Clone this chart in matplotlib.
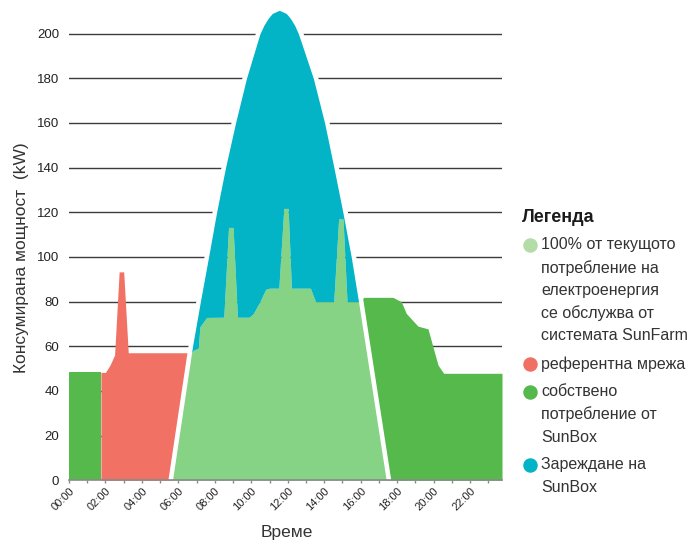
import numpy as np
import matplotlib
matplotlib.use("Agg")
import matplotlib.pyplot as plt
from matplotlib import font_manager as fm
from matplotlib.lines import Line2D

# ---------------- data ----------------
# demand curve (kW), time in hours
t_demand = [0.0, 1.75, 2.0, 2.25, 2.5, 2.75, 3.0, 3.25, 6.7, 6.85, 7.09, 7.18, 7.55,
            8.49, 8.75, 9.0, 9.24, 9.88, 10.1, 10.47, 10.79, 11.0, 11.51, 11.78, 12.02,
            12.2, 13.24, 13.52, 14.52, 14.79, 15.03, 15.25, 16.0, 16.16, 17.77, 18.23,
            18.5, 19.14, 19.69, 20.24, 20.55, 23.75]
v_demand = [48.3, 48.3, 48.3, 51.6, 56.1, 93.3, 93.3, 57.1, 57.1, 58.3, 59.1, 68.7, 72.9,
            73.0, 113.2, 113.2, 73.0, 73.0, 74.5, 80.0, 85.5, 86.0, 86.0, 121.7, 121.7,
            86.0, 86.0, 80.0, 80.0, 117.0, 117.0, 80.0, 80.0, 81.9, 81.9, 79.9,
            74.7, 69.0, 67.8, 51.6, 47.9, 47.9]

# SunFarm production curve (kW)
t_prod = [0.0, 5.58, 6.68, 7.11, 7.56, 8.0, 8.49, 9.04, 9.64, 10.38, 10.61, 10.86, 11.1,
          11.56, 12.02, 12.26, 12.51, 12.73, 13.55, 14.17, 14.68, 15.17, 15.63, 16.03,
          17.55, 23.75]
v_prod = [0, 0, 60, 80, 100, 120, 140, 160, 180, 200, 204, 207.3, 209.6,
          211.3, 209.6, 207.3, 204, 200, 180, 160, 140, 120, 100, 80,
          0, 0]

grid_switch = 1.75          # own consumption -> reference grid
tick_hours = list(range(24))
tick_labels = [f"{h:02d}:00" if h % 2 == 0 else "" for h in tick_hours]
y_ticks = list(range(0, 201, 20))

legend_items = [
    ("100% от текущото\nпотребление на\nелектроенергия\nсе обслужва от\nсистемата SunFarm", "#b3dca6"),
    ("референтна мрежа", "#f07064"),
    ("собствено\nпотребление от\nSunBox", "#55b84c"),
    ("Зареждане на\nSunBox", "#02b4c6"),
]

C_LIGHT = "#86d386"
C_RED = "#f17165"
C_DARK = "#55b94c"
C_BLUE = "#02b4c6"

names = {f.name for f in fm.fontManager.ttflist}
FONT = "Liberation Sans" if "Liberation Sans" in names else "DejaVu Sans"
plt.rcParams["font.family"] = [FONT, "DejaVu Sans"]

# ---------------- figure ----------------
W, H = 692, 545
fig = plt.figure(figsize=(W / 100, H / 100), dpi=100)
ax = fig.add_axes([69 / W, 64.7 / H, (502 - 69) / W, 480.3 / H])

tt = np.union1d(np.linspace(0, 23.75, 6000), np.union1d(t_demand, t_prod))
D = np.interp(tt, t_demand, v_demand)
P = np.interp(tt, t_prod, v_prod)

ax.fill_between(tt, 0, D, where=tt <= grid_switch, color=C_DARK, lw=0, zorder=1)
ax.fill_between(tt, P, D, where=(D > P) & (tt >= grid_switch) & (tt < 12), color=C_RED, lw=0, zorder=1)
ax.fill_between(tt, P, D, where=(D > P) & (tt > 12), color=C_DARK, lw=0, zorder=1)
ax.fill_between(tt, 0, np.minimum(D, P), where=P > 0, color=C_LIGHT, lw=0, zorder=1)
ax.fill_between(tt, D, P, where=P > D, color=C_BLUE, lw=0, zorder=1)
ax.plot(t_prod[1:-1], v_prod[1:-1], color="white", lw=3.3, zorder=2, solid_capstyle="butt")

ax.set_xlim(0, 23.75)
ax.set_ylim(0, 215)
ax.set_yticks(y_ticks)
ax.set_xticks(tick_hours)
ax.set_xticklabels(tick_labels)
ax.set_axisbelow(True)
ax.yaxis.grid(True, color="#3c3c3c", lw=1.0)
for s in ["top", "right", "left"]:
    ax.spines[s].set_visible(False)
ax.spines["bottom"].set_color("#8a8a8a")
ax.spines["bottom"].set_linewidth(1.2)
ax.tick_params(axis="y", length=0, pad=7, labelsize=9.5, labelcolor="#222222")
ax.tick_params(axis="x", length=2.5, width=1, color="#8a8a8a", pad=1.5, labelsize=8,
               labelcolor="#222222")
for lab in ax.get_xticklabels():
    lab.set_rotation(45)
    lab.set_ha("right")
    lab.set_va("top")
    lab.set_rotation_mode("anchor")

fig.text(22 / W, 1 - 258 / H, "Консумирана мощност  (kW)", rotation=90, ha="center",
         va="center", fontsize=12.5, color="#333333")
fig.text(287 / W, 1 - 533 / H, "Време", ha="center", va="center", fontsize=12.5, color="#333333")

# ---------------- legend ----------------
fig.text(522 / W, 1 - 217 / H, "Легенда", ha="left", va="center", fontsize=13,
         fontweight="bold", color="#1a1a1a")
line_gap = 22.75
item_gap = 5.0
y = 245.0
for text, col in legend_items:
    fig.add_artist(Line2D([530 / W], [1 - y / H], marker="o", markersize=9.4, color=col,
                          linestyle="none", transform=fig.transFigure))
    for i, line in enumerate(text.split("\n")):
        fig.text(541 / W, 1 - (y + i * line_gap) / H, line, ha="left", va="center",
                 fontsize=11.5, color="#333333")
    y += len(text.split("\n")) * line_gap + item_gap

fig.savefig("out.png", dpi=100)
